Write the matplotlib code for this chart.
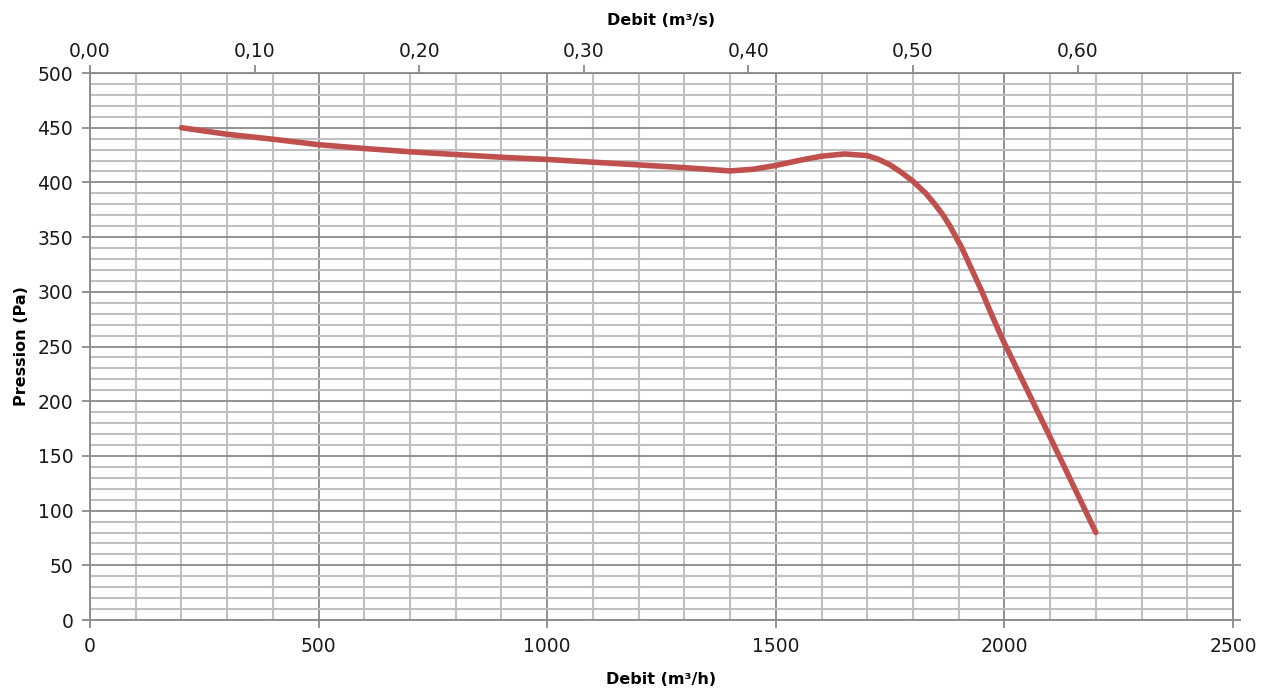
import numpy as np
import matplotlib
matplotlib.use('Agg')
import matplotlib.pyplot as plt
from matplotlib.ticker import MultipleLocator, FuncFormatter

plt.rcParams['font.family'] = ['DejaVu Sans']

# courbe debit / pression
debit_m3h = [200, 300, 400, 500, 600, 700, 800, 900, 1000, 1100, 1200, 1300, 1350, 1400,
             1450, 1500, 1550, 1600, 1650, 1700, 1725, 1750, 1775, 1800, 1828, 1848,
             1866, 1881, 1894, 1907, 1918, 1929, 1940, 1951, 1970, 1990, 2000, 2100, 2200]
pression = [450, 444, 439.5, 434.5, 431, 428, 425.5, 423, 421, 418.5, 416, 413.5, 412, 410.5,
            412, 415.5, 420, 424, 426, 424.5, 421, 416, 409, 401, 390, 380,
            370, 360, 350, 340, 330, 320, 310, 300, 281, 262, 253, 167, 80]

top_ticks = [0.0, 0.1, 0.2, 0.3, 0.4, 0.5, 0.6]

fig = plt.figure(figsize=(12.67, 6.92), dpi=100)
ax = fig.add_axes([0.071, 0.104, 0.9022, 0.7905])

ax.set_xlim(0, 2500)
ax.set_ylim(0, 500)

# grille type Excel
ax.xaxis.set_major_locator(MultipleLocator(500))
ax.xaxis.set_minor_locator(MultipleLocator(100))
ax.yaxis.set_major_locator(MultipleLocator(50))
ax.yaxis.set_minor_locator(MultipleLocator(10))
ax.grid(which='minor', color='#c0c0c0', linewidth=1.5, zorder=0)
ax.grid(which='major', color='#8a8a8a', linewidth=1.3, zorder=0)
ax.set_axisbelow(True)

ax.plot(debit_m3h, pression, color='#C0504D', linewidth=4,
        solid_capstyle='round', solid_joinstyle='round', zorder=3)

for s in ax.spines.values():
    s.set_color('#8a8a8a')
    s.set_linewidth(1.3)

ax.tick_params(which='major', direction='out', length=6, width=1.3, color='#8a8a8a',
               labelsize=13.5, right=True, labelcolor='#1a1a1a', pad=6)
ax.tick_params(which='minor', length=0)

ax.set_xlabel('Debit (m³/h)', fontsize=11.5, fontweight='bold', labelpad=12)
ax.set_ylabel('Pression (Pa)', fontsize=11.5, fontweight='bold', labelpad=6)

# axe secondaire en m3/s
top = ax.secondary_xaxis('top', functions=(lambda x: x / 3600.0, lambda x: x * 3600.0))
top.set_xticks(top_ticks)
top.xaxis.set_major_formatter(FuncFormatter(lambda v, p: f'{v:.2f}'.replace('.', ',')))
top.tick_params(direction='out', length=6, width=1.3, color='#8a8a8a',
                labelsize=13.5, labelcolor='#1a1a1a', pad=3)
top.spines['top'].set_color('#8a8a8a')
top.set_xlabel('Debit (m³/s)', fontsize=11.5, fontweight='bold', labelpad=12)

fig.savefig('out.png', dpi=100)
